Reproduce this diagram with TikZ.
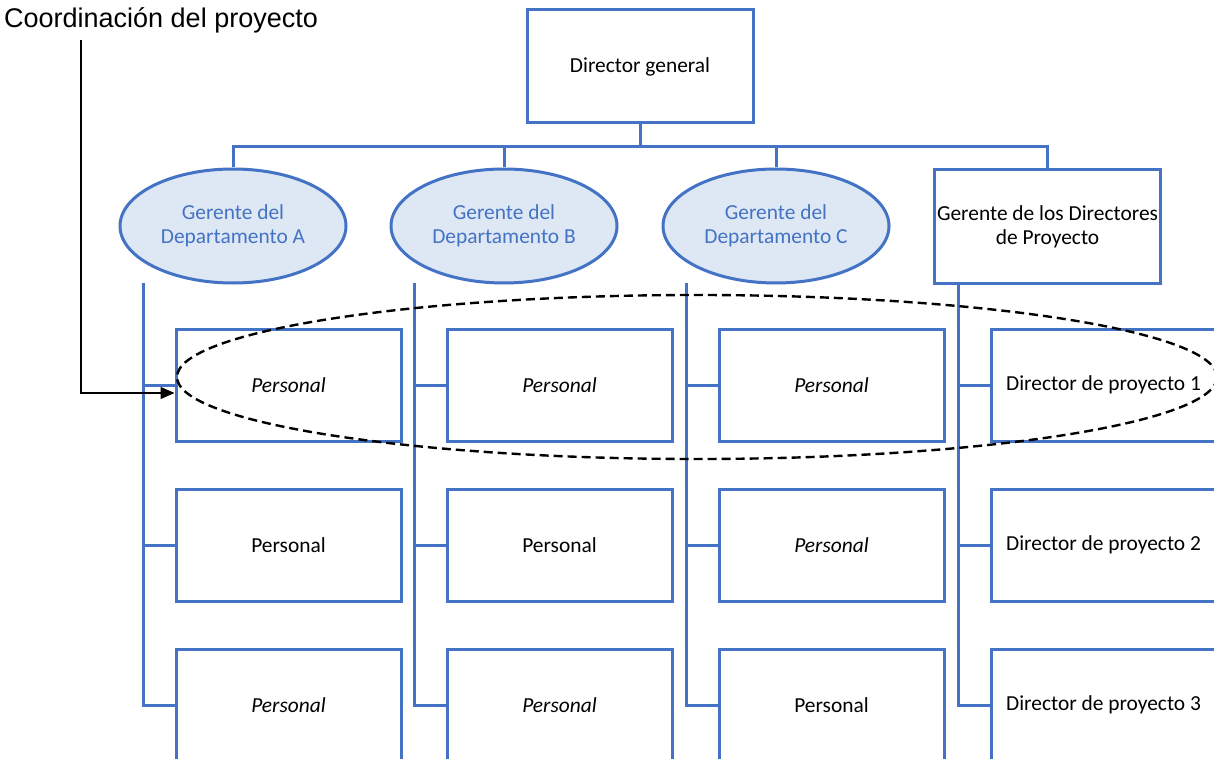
\documentclass[tikz,border=0pt]{standalone}
\usepackage{fontspec}
\setmainfont{Carlito}
\newfontfamily\arialfont{Liberation Sans}
\usetikzlibrary{shapes.geometric,arrows.meta}
\definecolor{obl}{HTML}{4472C4}
\definecolor{ofill}{HTML}{DEE8F5}
\begin{document}
\begin{tikzpicture}[x=1pt,y=-1pt,
  every node/.style={font=\fontsize{21.4}{24}\selectfont},
  bline/.style={draw=obl,line width=3pt},
  obox/.style={rectangle,draw=obl,line width=3pt,fill=white,minimum width=225pt,minimum height=112pt,inner sep=1pt,align=center},
  oell/.style={ellipse,draw=obl,line width=3pt,fill=ofill,text=obl,minimum width=226pt,minimum height=114pt,inner sep=0pt,align=center},
  ital/.style={font=\fontsize{21.4}{24}\selectfont\itshape}]
\useasboundingbox (0,0) rectangle (1214,759);
\clip (0,0) rectangle (1214,759);
\fill[white] (0,0) rectangle (1214,759);

% top
\node[obox,minimum width=226pt,minimum height=113pt] (dg) at (640,66.5) {Director general};
\coordinate (bus) at (640,147);

\node[oell] (eA) at (233,226) {Gerente del\\Departamento A};
\node[oell] (eB) at (504,226) {Gerente del\\Departamento B};
\node[oell] (eC) at (776,226) {Gerente del\\Departamento C};
\node[obox,minimum width=226pt,minimum height=113pt] (gd) at (1047.5,226.5) {Gerente de los Directores\\de Proyecto};

\draw[bline] (dg.south) -- (bus);
\draw[bline] (eA.north) |- (bus);
\draw[bline] (eC.north) |- (bus);
\draw[bline] (eB.north) |- (bus);
\draw[bline] (gd.north) |- (bus);

% column trunks
\coordinate (tA) at (143,283);
\coordinate (tB) at (414,283);
\coordinate (tC) at (686,283);
\coordinate (tD) at (958,283);

% boxes
\node[obox,ital] (a1) at (288.5,385) {Personal};
\node[obox] (a2) at (288.5,545) {Personal};
\node[obox,ital] (a3) at (288.5,705) {Personal};
\node[obox,ital] (b1) at (559.5,385) {Personal};
\node[obox] (b2) at (559.5,545) {Personal};
\node[obox,ital] (b3) at (559.5,705) {Personal};
\node[obox,ital] (c1) at (831.5,385) {Personal};
\node[obox,ital] (c2) at (831.5,545) {Personal};
\node[obox] (c3) at (831.5,705) {Personal};
\node[obox] (d1) at (1103.5,385) {Director de proyecto 1};
\node[obox] (d2) at (1103.5,545) {Director de proyecto 2};
\node[obox] (d3) at (1103.5,705) {Director de proyecto 3};

\foreach \c/\t in {a/tA,b/tB,c/tC,d/tD}{
  \draw[bline] (\t) |- (\c3.west);
  \draw[bline] (\t |- \c1.west) -- (\c1.west);
  \draw[bline] (\t |- \c2.west) -- (\c2.west);
}

% coordination ellipse
\node[ellipse,draw=black,line width=2.4pt,dash pattern=on 9pt off 5pt,minimum width=1040pt,minimum height=164pt,inner sep=0pt] (coord) at (697,377) {};

% label and arrow
\node[font=\arialfont\fontsize{27}{32}\selectfont,anchor=west,inner sep=0pt] (lbl) at (4,20) {Coordinación del proyecto};
\coordinate (a0) at (81,40);
\draw[line width=1.3pt,-{Triangle[length=14pt,width=12pt]}] (a0) |- ([yshift=-8pt]a1.west);
\end{tikzpicture}
\end{document}
